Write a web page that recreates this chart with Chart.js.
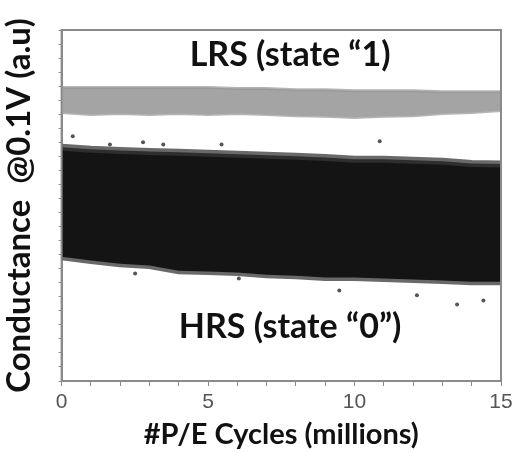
<!DOCTYPE html>
<html>
<head>
<meta charset="utf-8">
<script src="https://cdn.jsdelivr.net/npm/chart.js@4.4.1/dist/chart.umd.min.js"></script>
<style>
  html, body { margin: 0; padding: 0; background: #fff; }
  #wrap { width: 523px; height: 452px; }
</style>
</head>
<body>
<div id="wrap"><canvas id="c"></canvas></div>
<script>
// cycles (millions) where the band edges were read
var cycles = [0, 1, 2, 3, 4, 5, 6, 7, 8, 9, 10, 11, 12, 13, 14, 15];
// LRS band (grey), conductance in a.u.
var lrsTop    = [83.6, 83.6, 83.6, 83.6, 83.6, 83.6, 83.3, 83.3, 83.0, 83.0, 82.7, 82.7, 82.7, 82.4, 82.4, 82.4];
var lrsBottom = [76.5, 75.9, 76.2, 75.9, 76.2, 75.9, 76.2, 75.9, 75.6, 75.4, 75.1, 75.4, 75.6, 76.2, 76.5, 77.1];
// HRS band (black)
var hrsTop    = [66.6, 66.0, 65.7, 65.4, 65.2, 64.9, 64.6, 64.3, 64.0, 63.7, 63.2, 63.2, 62.9, 62.6, 62.0, 61.8];
var hrsBottom = [35.4, 34.3, 33.4, 32.9, 31.4, 31.2, 30.9, 30.3, 30.0, 29.5, 29.5, 29.2, 28.9, 28.6, 28.3, 28.3];
// stray HRS points outside the band
var strayX = [0.38, 1.65, 2.78, 3.47, 5.46, 10.86, 2.51, 6.05, 9.48, 12.13, 13.5, 14.4];
var strayY = [69.7, 67.4, 68.0, 67.4, 67.4, 68.3, 30.6, 29.2, 25.8, 24.4, 21.8, 22.9];
var xTickLabels = ['0', '5', '10', '15'];

function pts(xs, ys) {
  return xs.map(function (c, i) { return { x: c, y: ys[i] }; });
}

// frame round the plot + the two state labels
var extras = {
  id: 'extras',
  afterDraw: function (chart) {
    var ctx = chart.ctx, a = chart.chartArea;
    var xs = chart.scales.x, ys = chart.scales.y;
    ctx.save();
    ctx.strokeStyle = '#8a8a8a';
    ctx.lineWidth = 2;
    ctx.strokeRect(a.left, a.top, a.right - a.left, a.bottom - a.top);
    ctx.fillStyle = '#111';
    ctx.font = 'bold 34px Lato';
    ctx.textAlign = 'center';
    ctx.textBaseline = 'middle';
    ctx.fillText('LRS (state \u201C1)', xs.getPixelForValue(7.8), ys.getPixelForValue(93));
    ctx.fillText('HRS (state \u201C0\u201D)', xs.getPixelForValue(7.8), ys.getPixelForValue(15.5));
    ctx.restore();
  }
};

new Chart(document.getElementById('c'), {
  type: 'scatter',
  data: {
    datasets: [
      { data: pts(cycles, lrsTop), showLine: true, borderColor: 'rgba(150,150,150,0.7)', borderWidth: 3, pointRadius: 0, backgroundColor: '#a4a4a4', fill: '+1' },
      { data: pts(cycles, lrsBottom), showLine: true, borderColor: 'rgba(150,150,150,0.7)', borderWidth: 3, pointRadius: 0, fill: false },
      { data: pts(cycles, hrsTop), showLine: true, borderColor: 'rgba(55,55,55,0.75)', borderWidth: 7, pointRadius: 0, backgroundColor: '#141414', fill: '+1' },
      { data: pts(cycles, hrsBottom), showLine: true, borderColor: 'rgba(55,55,55,0.75)', borderWidth: 7, pointRadius: 0, fill: false },
      { data: pts(strayX, strayY), pointRadius: 2, pointBackgroundColor: '#555', pointBorderWidth: 0 }
    ]
  },
  options: {
    responsive: true,
    maintainAspectRatio: false,
    animation: false,
    layout: { padding: { top: 30, right: 22, left: 0, bottom: 0 } },
    plugins: { legend: { display: false }, tooltip: { enabled: false } },
    scales: {
      x: {
        type: 'linear', min: 0, max: 15,
        grid: { display: true, drawOnChartArea: false, color: '#8a8a8a', tickLength: 5 },
        border: { color: '#8a8a8a', width: 2 },
        ticks: {
          stepSize: 1, autoSkip: false, maxRotation: 0, padding: 4,
          color: '#555', font: { family: 'Liberation Sans', size: 21 },
          callback: function (v) { return v % 5 === 0 ? xTickLabels[v / 5] : ''; }
        },
        title: { display: true, text: '#P/E Cycles (millions)', color: '#111', font: { family: 'Lato', weight: 'bold', size: 29 }, padding: { top: -2, bottom: 0 } }
      },
      y: {
        type: 'linear', min: 0, max: 100,
        grid: { display: true, drawOnChartArea: false, color: '#8a8a8a', tickLength: 3 },
        border: { color: '#8a8a8a', width: 2 },
        ticks: { stepSize: 4, display: false },
        title: { display: true, text: 'Conductance  @0.1V (a.u)', color: '#111', font: { family: 'Lato', weight: 'bold', size: 33 }, padding: { top: 0, bottom: 19 } }
      }
    }
  },
  plugins: [extras]
});
</script>
</body>
</html>
